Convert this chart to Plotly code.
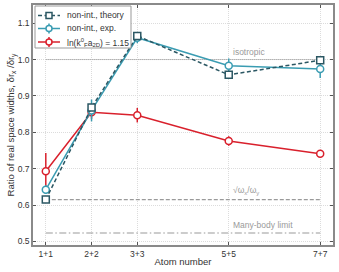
import plotly.graph_objects as go

atoms = [1, 2, 3, 5, 7]
tick_labels = ["1+1", "2+2", "3+3", "5+5", "7+7"]

theory = [0.615, 0.868, 1.065, 0.958, 0.998]
exp_vals = [0.642, 0.860, 1.060, 0.983, 0.974]
exp_err = [0.012, 0.03, 0.015, 0.02, 0.025]
inter_vals = [0.693, 0.855, 0.847, 0.776, 0.741]
inter_err = [0.05, 0.018, 0.02, 0.013, 0.01]

legend_labels = ["non-int., theory", "non-int., exp.", "ln(k<sup>0</sup><sub>F</sub>a<sub>2D</sub>) = 1.15"]

isotropic = 1.0
sqrt_ratio = 0.615
many_body = 0.523

c_theory = "#2b5763"
c_exp = "#3a9cb2"
c_red = "#d9202c"
grey = "#9a9a9a"

W, H = 339, 272
L, R, T, B = 33, 6, 5, 27
PW, PH = W - L - R, H - T - B


def px(x):
    return (x - L) / PW


def py(y):
    return 1 - (y - T) / PH


fig = go.Figure()

# reference lines
fig.add_trace(go.Scatter(x=[1, 7], y=[isotropic]*2, mode="lines",
                         line=dict(color=grey, width=1, dash="1px,1px"), showlegend=False, hoverinfo="skip"))
fig.add_trace(go.Scatter(x=[1, 7], y=[sqrt_ratio]*2, mode="lines",
                         line=dict(color=grey, width=1.2, dash="4px,2px"), showlegend=False, hoverinfo="skip"))
fig.add_trace(go.Scatter(x=[1, 7], y=[many_body]*2, mode="lines",
                         line=dict(color=grey, width=1.2, dash="7px,2.5px,1.5px,2.5px"), showlegend=False, hoverinfo="skip"))

fig.add_trace(go.Scatter(x=atoms, y=inter_vals, mode="lines+markers", name=legend_labels[2],
                         line=dict(color=c_red, width=1.5),
                         marker=dict(symbol="circle", size=7, color="white", line=dict(color=c_red, width=1.5)),
                         error_y=dict(type="data", array=inter_err, color=c_red, thickness=1.5, width=0),
                         showlegend=False))
fig.add_trace(go.Scatter(x=atoms, y=exp_vals, mode="lines+markers", name=legend_labels[1],
                         line=dict(color=c_exp, width=1.5),
                         marker=dict(symbol="circle", size=7, color="white", line=dict(color=c_exp, width=1.5)),
                         error_y=dict(type="data", array=exp_err, color=c_exp, thickness=1.5, width=0),
                         showlegend=False))
fig.add_trace(go.Scatter(x=atoms, y=theory, mode="lines+markers", name=legend_labels[0],
                         line=dict(color=c_theory, width=1.5, dash="4px,2.5px"),
                         marker=dict(symbol="square", size=7, color="white", line=dict(color=c_theory, width=1.5)),
                         showlegend=False))

ann_font = dict(family="Liberation Sans, Arial", size=8.5, color=grey)
fig.add_annotation(x=5.05, y=isotropic, text="isotropic", showarrow=False, xanchor="left", yanchor="bottom", yshift=1, font=ann_font)
fig.add_annotation(x=5.05, y=sqrt_ratio, text="√ω<sub>x</sub>/ω<sub>y</sub>", showarrow=False, xanchor="left", yanchor="bottom", yshift=2, font=ann_font)
fig.add_annotation(x=5.05, y=many_body, text="Many-body limit", showarrow=False, xanchor="left", yanchor="bottom", yshift=1, font=ann_font)

# manual legend (compact, like the reference)
shapes = [dict(type="rect", xref="paper", yref="paper", x0=px(35), x1=px(131), y0=py(48), y1=py(6),
               line=dict(color="#999", width=1), fillcolor="white", layer="above")]
rows = [15.5, 28.5, 42]
styles = [(c_theory, "4px,2.5px", "square", False), (c_exp, "solid", "circle", True), (c_red, "solid", "circle", True)]
for yc, (col, dash, sym, err), lab in zip(rows, styles, legend_labels):
    shapes.append(dict(type="line", xref="paper", yref="paper", x0=px(38), x1=px(60), y0=py(yc), y1=py(yc),
                       line=dict(color=col, width=1.5, dash=dash), layer="above"))
    if err:
        shapes.append(dict(type="line", xref="paper", yref="paper", x0=px(49), x1=px(49), y0=py(yc - 5), y1=py(yc + 5),
                           line=dict(color=col, width=1.5), layer="above"))
    shapes.append(dict(type="rect" if sym == "square" else "circle", xref="paper", yref="paper",
                       x0=px(46), x1=px(52), y0=py(yc + 3), y1=py(yc - 3),
                       line=dict(color=col, width=1.5), fillcolor="white", layer="above"))
    fig.add_annotation(xref="paper", yref="paper", x=px(65), y=py(yc), text=lab, showarrow=False,
                       xanchor="left", yanchor="middle",
                       font=dict(family="Liberation Sans, Arial", size=8.5, color="#333"))

axis_common = dict(showline=True, linecolor="#8a8a8a", linewidth=1.5, mirror="ticks",
                   ticks="inside", ticklen=3, tickcolor="#555", showgrid=True,
                   gridcolor="#dcdcdc", griddash="1px,1px", gridwidth=1, zeroline=False, automargin=False,
                   tickfont=dict(family="Liberation Sans, Arial", size=8.5, color="#333"))

fig.update_layout(
    width=W, height=H,
    margin=dict(l=L, r=R, t=T, b=B),
    plot_bgcolor="white", paper_bgcolor="white",
    font=dict(family="Liberation Sans, Arial", size=9, color="#333"),
    showlegend=False,
    shapes=shapes,
    xaxis=dict(range=[0.72, 7.28], tickvals=atoms, ticktext=tick_labels,
               title=dict(text="Atom number", font=dict(size=9.5), standoff=0), **axis_common),
    yaxis=dict(range=[0.49, 1.15], tickvals=[0.5, 0.6, 0.7, 0.8, 0.9, 1.0, 1.1],
               ticktext=["0.5", "0.6", "0.7", "0.8", "0.9", "1.0", "1.1"],
               title=dict(text="Ratio of real space widths, δr<sub>x</sub> /δr<sub>y</sub>", font=dict(size=9.5), standoff=0),
               **axis_common),
)

fig.write_html("out.html", config={"displayModeBar": False},
               post_script="document.body.style.margin='0px';")
